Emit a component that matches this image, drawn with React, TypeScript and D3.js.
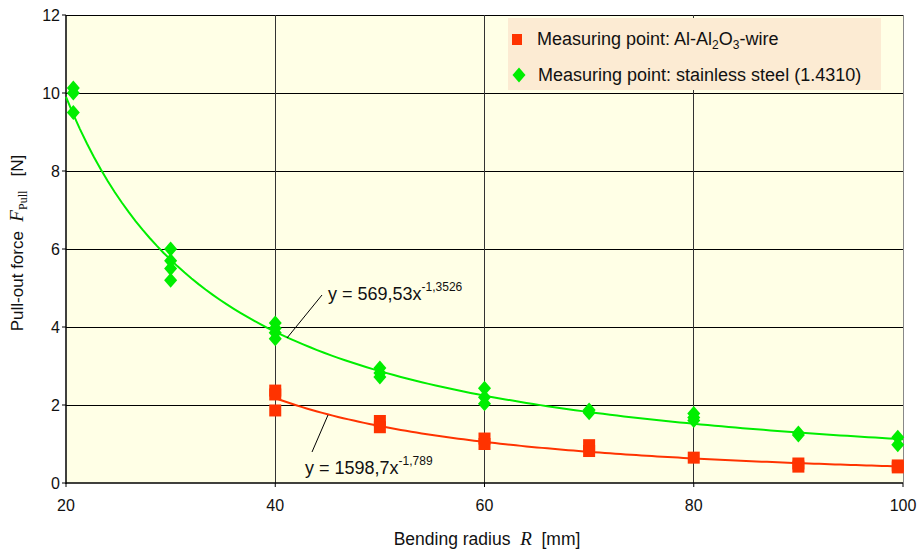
import React from "react";
import * as d3 from "d3";

const radiusSteel = [20.7, 20.7, 20.7, 30, 30, 30, 30, 40, 40, 40, 40, 50, 50, 50, 60, 60, 60, 70, 70, 80, 80, 80, 90, 90, 99.5, 99.5];
const forceSteel = [10.13, 10.0, 9.5, 6.0, 5.7, 5.5, 5.2, 4.1, 3.97, 3.85, 3.7, 2.95, 2.82, 2.72, 2.43, 2.2, 2.03, 1.87, 1.8, 1.78, 1.68, 1.6, 1.28, 1.23, 1.17, 0.98];
const radiusWire = [40, 40, 40, 50, 50, 60, 60, 70, 70, 80, 90, 90, 99.5, 99.5];
const forceWire = [2.37, 2.27, 1.86, 1.59, 1.43, 1.14, 1.0, 0.97, 0.82, 0.65, 0.5, 0.42, 0.45, 0.4];

// trendline coefficients (power fit y = a * x^b) as printed on the chart
const fitSteel = [569.53, -1.3526];
const fitWire = [1598.7, -1.789];
const fitSteelRange = [20, 100];
const fitWireRange = [40, 100];

const xTicks = [20, 40, 60, 80, 100];
const yTicks = [0, 2, 4, 6, 8, 10, 12];

const W = 921;
const H = 552;
const M = { left: 66, right: 903, top: 15, bottom: 483 };

const FONT = "'Liberation Sans', Arial, sans-serif";
const SERIF = "'Liberation Serif', 'Times New Roman', serif";
const RED = "#FF3300";
const GREEN = "#00EE00";

export default function App() {
  const x = d3.scaleLinear().domain([20, 100]).range([M.left, M.right]);
  const y = d3.scaleLinear().domain([0, 12]).range([M.bottom, M.top]);

  const curve = (fit: number[], range: number[]) => {
    const pts: [number, number][] = [];
    const n = 120;
    for (let i = 0; i <= n; i++) {
      const xv = range[0] + ((range[1] - range[0]) * i) / n;
      pts.push([xv, fit[0] * Math.pow(xv, fit[1])]);
    }
    return d3
      .line<[number, number]>()
      .x((d) => x(d[0]))
      .y((d) => y(d[1]))(pts) as string;
  };

  const diamond = (cx: number, cy: number, rx = 6.5, ry = 7.5) =>
    `M${cx},${cy - ry}L${cx + rx},${cy}L${cx},${cy + ry}L${cx - rx},${cy}Z`;

  return (
    <svg
      width={W}
      height={H}
      style={{ position: "absolute", left: 0, top: 0, background: "#fff" }}
      fontFamily={FONT}
    >
      <rect
        x={M.left}
        y={M.top}
        width={M.right - M.left}
        height={M.bottom - M.top}
        fill="#FFFFE6"
      />
      {/* horizontal grid */}
      {yTicks.slice(1).map((t) => (
        <line
          key={"hy" + t}
          x1={M.left}
          x2={M.right}
          y1={y(t)}
          y2={y(t)}
          stroke="#000"
          strokeWidth={1}
          shapeRendering="crispEdges"
        />
      ))}
      {/* vertical grid */}
      {xTicks.slice(1).map((t) => (
        <line
          key={"vx" + t}
          x1={x(t)}
          x2={x(t)}
          y1={M.top}
          y2={M.bottom}
          stroke={t === 100 ? "#888" : "#333"}
          strokeWidth={1}
          shapeRendering="crispEdges"
        />
      ))}
      {/* axes */}
      <line x1={M.left} x2={M.left} y1={M.top} y2={M.bottom + 1} stroke="#000" strokeWidth={1.5} />
      <line x1={M.left} x2={M.right} y1={M.bottom} y2={M.bottom} stroke="#000" strokeWidth={1.5} />
      {yTicks.map((t) => (
        <g key={"yt" + t}>
          <line x1={M.left - 4} x2={M.left} y1={y(t)} y2={y(t)} stroke="#000" />
          <text x={M.left - 6} y={y(t)} dy="0.35em" textAnchor="end" fontSize={16} fill="#111">
            {t}
          </text>
        </g>
      ))}
      {xTicks.map((t) => (
        <g key={"xt" + t}>
          <line x1={x(t)} x2={x(t)} y1={M.bottom} y2={M.bottom + 4} stroke="#000" />
          <text x={x(t)} y={M.bottom + 28} textAnchor="middle" fontSize={16} fill="#111">
            {t}
          </text>
        </g>
      ))}

      {/* trend lines */}
      <path d={curve(fitSteel, fitSteelRange)} fill="none" stroke={GREEN} strokeWidth={2} />
      <path d={curve(fitWire, fitWireRange)} fill="none" stroke={RED} strokeWidth={2} />

      {/* points */}
      {radiusWire.map((r, i) => (
        <rect
          key={"w" + i}
          x={x(r) - 6}
          y={y(forceWire[i]) - 6}
          width={12}
          height={12}
          fill={RED}
        />
      ))}
      {radiusSteel.map((r, i) => (
        <path key={"s" + i} d={diamond(x(r), y(forceSteel[i]))} fill={GREEN} />
      ))}

      {/* equation labels */}
      <line x1={322} y1={295} x2={287} y2={338} stroke="#000" strokeWidth={1} />
      <text x={328} y={300} fontSize={18} fill="#111">
        y = 569,53x
        <tspan dy={-9} fontSize={12}>-1,3526</tspan>
      </text>
      <line x1={312} y1={452} x2={328} y2={415} stroke="#000" strokeWidth={1} />
      <text x={305} y={474} fontSize={18} fill="#111">
        y = 1598,7x
        <tspan dy={-9} fontSize={12}>-1,789</tspan>
      </text>

      {/* legend */}
      <rect x={508} y={18} width={373} height={72} fill="#FCEBD3" />
      <rect x={512} y={34} width={10} height={11} fill={RED} />
      <text x={537} y={45} fontSize={18} fill="#111">
        Measuring point: Al-Al
        <tspan fontSize={12} dy={4}>2</tspan>
        <tspan dy={-4}>O</tspan>
        <tspan fontSize={12} dy={4}>3</tspan>
        <tspan dy={-4}>-wire</tspan>
      </text>
      <path d={diamond(519, 75, 6.5, 7.5)} fill={GREEN} />
      <text x={538} y={81} fontSize={18} fill="#111">
        Measuring point: stainless steel (1.4310)
      </text>

      {/* axis titles */}
      <text
        x={487}
        y={545}
        textAnchor="middle"
        fontSize={17.5}
        fill="#111"
        style={{ whiteSpace: "pre" }}
      >
        {"Bending radius  "}
        <tspan fontFamily={SERIF} fontStyle="italic" fontSize={19}>
          R
        </tspan>
        {"  [mm]"}
      </text>
      <text
        transform={`translate(23,243) rotate(-90)`}
        textAnchor="middle"
        fontSize={17}
        fill="#111"
        style={{ whiteSpace: "pre" }}
      >
        {"Pull-out force  "}
        <tspan fontFamily={SERIF} fontStyle="italic" fontSize={19}>
          F
        </tspan>
        <tspan fontFamily={SERIF} fontSize={12} dy={4}>
          Pull
        </tspan>
        <tspan dy={-4}>{"   [N]"}</tspan>
      </text>
    </svg>
  );
}
